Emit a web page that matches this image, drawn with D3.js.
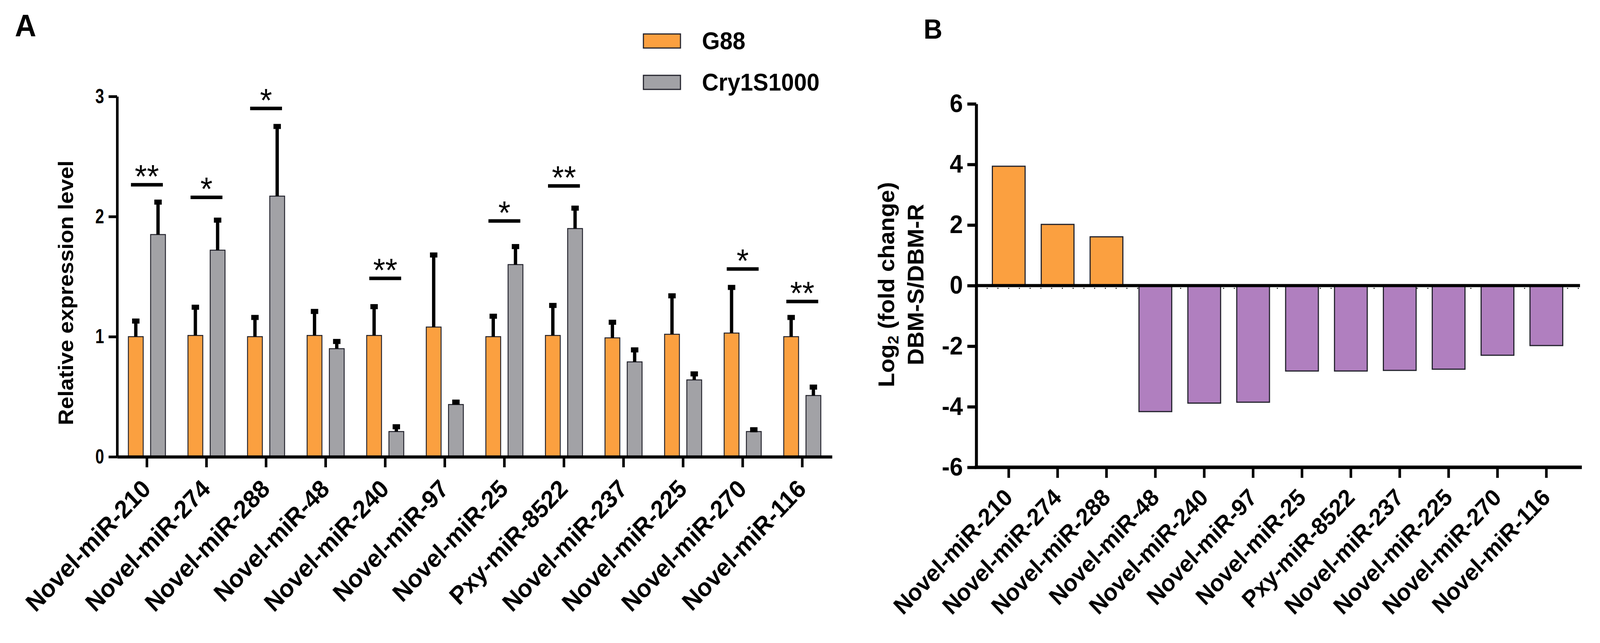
<!DOCTYPE html>
<html>
<head>
<meta charset="utf-8">
<script src="https://cdn.jsdelivr.net/npm/d3@7"></script>
<style>
  html, body { margin: 0; padding: 0; background: #ffffff; overflow: hidden; width: 100%; height: 100%; }
  svg { display: block; position: absolute; left: 0; top: 0; width: 100vw; height: 100vh; }
  text { font-family: "Liberation Sans", Arial, Helvetica, sans-serif; font-weight: bold; fill: #000; }
</style>
</head>
<body>
<svg id="chart" viewBox="0 0 4317 1647" preserveAspectRatio="none"></svg>
<script>
// ---------------- DATA ----------------
const categories = ["Novel-miR-210", "Novel-miR-274", "Novel-miR-288", "Novel-miR-48",
  "Novel-miR-240", "Novel-miR-97", "Novel-miR-25", "Pxy-miR-8522", "Novel-miR-237",
  "Novel-miR-225", "Novel-miR-270", "Novel-miR-116"];
const seriesNames = ["G88", "Cry1S1000"];
const g88Mean = [1.00, 1.01, 1.00, 1.01, 1.01, 1.08, 1.00, 1.01, 0.99, 1.02, 1.03, 1.00];
const g88SD   = [0.13, 0.235, 0.16, 0.20, 0.24, 0.60, 0.17, 0.25, 0.13, 0.32, 0.38, 0.16];
const cryMean = [1.85, 1.72, 2.17, 0.90, 0.21, 0.435, 1.60, 1.90, 0.79, 0.64, 0.21, 0.51];
const crySD   = [0.27, 0.25, 0.58, 0.06, 0.04, 0.02, 0.15, 0.17, 0.10, 0.05, 0.015, 0.07];
const sigIndex = [0, 1, 2, 4, 6, 7, 10, 11];
const sigLabel = ["**", "*", "*", "**", "*", "**", "*", "**"];
const sigLevel = [2.265, 2.16, 2.90, 1.485, 1.963, 2.255, 1.563, 1.293];
const yTicksA = [0, 1, 2, 3];

const log2FC = [3.94, 2.02, 1.61, -4.16, -3.88, -3.85, -2.82, -2.82, -2.80, -2.76, -2.30, -1.98];
const yTicksB = [-6, -4, -2, 0, 2, 4, 6];

// ---------------- STYLE ----------------
const ORANGE = "#FBA040", GRAY = "#A2A2A6", PURPLE = "#B07FBF", EDGE = "#22222c";
const svg = d3.select("#chart");

// ================= PANEL A =================
const xA = d3.scaleBand().domain(categories).range([316, 2245]).padding(0);
const yA = d3.scaleLinear().domain([0, 3]).range([1170, 247]);
const barW = 40, off = 30;

const gA = svg.append("g");

// bars
const groups = gA.selectAll("g.grp").data(categories).join("g").attr("class", "grp");
groups.append("rect")
  .attr("x", (d) => xA(d) + xA.bandwidth() / 2 - off - barW / 2)
  .attr("y", (d, i) => yA(g88Mean[i]))
  .attr("width", barW)
  .attr("height", (d, i) => yA(0) - yA(g88Mean[i]))
  .attr("fill", ORANGE).attr("stroke", EDGE).attr("stroke-width", 2.5);
groups.append("rect")
  .attr("x", (d) => xA(d) + xA.bandwidth() / 2 + off - barW / 2)
  .attr("y", (d, i) => yA(cryMean[i]))
  .attr("width", barW)
  .attr("height", (d, i) => yA(0) - yA(cryMean[i]))
  .attr("fill", GRAY).attr("stroke", EDGE).attr("stroke-width", 2.5);

// error bars (upper only)
function errBar(sel, cxFn, meanArr, sdArr) {
  sel.append("line")
    .attr("x1", cxFn).attr("x2", cxFn)
    .attr("y1", (d, i) => yA(meanArr[i]))
    .attr("y2", (d, i) => yA(meanArr[i] + sdArr[i]))
    .attr("stroke", "#000").attr("stroke-width", 9);
  sel.append("line")
    .attr("x1", (d, i) => cxFn(d, i) - 10).attr("x2", (d, i) => cxFn(d, i) + 10)
    .attr("y1", (d, i) => yA(meanArr[i] + sdArr[i]))
    .attr("y2", (d, i) => yA(meanArr[i] + sdArr[i]))
    .attr("stroke", "#000").attr("stroke-width", 13);
}
errBar(groups, (d) => xA(d) + xA.bandwidth() / 2 - off, g88Mean, g88SD);
errBar(groups, (d) => xA(d) + xA.bandwidth() / 2 + off, cryMean, crySD);

// significance marks
const sigData = sigIndex.map((idx, k) => ({ cat: categories[idx], label: sigLabel[k], level: sigLevel[k] }));
const sg = gA.selectAll("g.sig").data(sigData).join("g").attr("class", "sig");
sg.append("line")
  .attr("x1", (d) => xA(d.cat) + xA.bandwidth() / 2 - 43)
  .attr("x2", (d) => xA(d.cat) + xA.bandwidth() / 2 + 43)
  .attr("y1", (d) => yA(d.level)).attr("y2", (d) => yA(d.level))
  .attr("stroke", "#000").attr("stroke-width", 9);
sg.append("text")
  .attr("x", (d) => xA(d.cat) + xA.bandwidth() / 2)
  .attr("y", (d) => yA(d.level) + 8)
  .attr("text-anchor", "middle")
  .style("font-size", "84px").style("font-weight", "normal")
  .text((d) => d.label);

// axes
const axA = gA.append("g").attr("transform", "translate(316,0)")
  .call(d3.axisLeft(yA).tickValues(yTicksA).tickFormat(d3.format("d")).tickSize(23).tickPadding(12).tickSizeOuter(0));
axA.select(".domain").attr("stroke", "#000").attr("stroke-width", 7);
axA.selectAll(".tick line").attr("stroke", "#000").attr("stroke-width", 7);
axA.selectAll(".tick text").style("font-size", "52px").attr("font-family", null)
  .attr("transform", "scale(0.82,1)").attr("x", -35 / 0.82);

const axAx = gA.append("g").attr("transform", "translate(0,1170)")
  .call(d3.axisBottom(xA).tickSize(27).tickSizeOuter(0).tickFormat(""));
axAx.select(".domain").attr("stroke", "#000").attr("stroke-width", 8);
axAx.selectAll(".tick line").attr("stroke", "#000").attr("stroke-width", 7);

gA.selectAll("text.xlabA").data(categories).join("text").attr("class", "xlabA")
  .attr("text-anchor", "end")
  .attr("transform", (d) => `translate(${xA(d) + xA.bandwidth() / 2 + 14},1256) rotate(-45)`)
  .style("font-size", "64px")
  .text((d) => d);

gA.append("text")
  .attr("transform", "translate(197,750) rotate(-90)")
  .attr("text-anchor", "middle")
  .style("font-size", "57px")
  .text("Relative expression level");

gA.append("text").attr("x", 40).attr("y", 93).style("font-size", "80px").text("A");

// legend
const leg = gA.selectAll("g.leg").data(seriesNames).join("g").attr("class", "leg")
  .attr("transform", (d, i) => `translate(1736,${87 + i * 106})`);
leg.append("rect").attr("width", 100).attr("height", 36)
  .attr("fill", (d, i) => (i === 0 ? ORANGE : GRAY)).attr("stroke", EDGE).attr("stroke-width", 3);
leg.append("text").attr("x", 158).attr("y", 39).style("font-size", "62px").text((d) => d);

// ================= PANEL B =================
const xB = d3.scaleBand().domain(categories).range([2634, 4260]).padding(0.33);
const yB = d3.scaleLinear().domain([-6, 6]).range([1197, 266]);
const gB = svg.append("g");

// faint dotted baseline marks just below zero
gB.append("line").attr("x1", 2662).attr("x2", 4263)
  .attr("y1", yB(0) + 7).attr("y2", yB(0) + 7)
  .attr("stroke", "#333").attr("stroke-width", 3).attr("stroke-dasharray", "3,26");

gB.selectAll("rect.bb").data(categories).join("rect").attr("class", "bb")
  .attr("x", (d) => xB(d))
  .attr("width", xB.bandwidth())
  .attr("y", (d, i) => yB(Math.max(0, log2FC[i])))
  .attr("height", (d, i) => Math.abs(yB(log2FC[i]) - yB(0)))
  .attr("fill", (d, i) => (log2FC[i] >= 0 ? ORANGE : PURPLE))
  .attr("stroke", EDGE).attr("stroke-width", 3);

// zero line
gB.append("line").attr("x1", 2634).attr("x2", 4263)
  .attr("y1", yB(0)).attr("y2", yB(0))
  .attr("stroke", "#000").attr("stroke-width", 8);

const axB = gB.append("g").attr("transform", "translate(2634,0)")
  .call(d3.axisLeft(yB).tickValues(yTicksB).tickFormat(d3.format("d")).tickSize(24).tickPadding(12).tickSizeOuter(0));
axB.select(".domain").attr("stroke", "#000").attr("stroke-width", 8);
axB.selectAll(".tick line").attr("stroke", "#000").attr("stroke-width", 8);
axB.selectAll(".tick text").style("font-size", "64px").attr("font-family", null).text((d) => (d < 0 ? "-" + Math.abs(d) : d));

const axBx = gB.append("g").attr("transform", "translate(0,1197)")
  .call(d3.axisBottom(xB).tickSize(27).tickSizeOuter(0).tickFormat(""));
axBx.select(".domain").attr("stroke", "#000").attr("stroke-width", 9)
  .attr("d", "M2630,0H4268");
axBx.selectAll(".tick line").attr("stroke", "#000").attr("stroke-width", 7);

gB.selectAll("text.xlabB").data(categories).join("text").attr("class", "xlabB")
  .attr("text-anchor", "end")
  .attr("transform", (d) => `translate(${xB(d) + xB.bandwidth() / 2 + 14},1278) rotate(-45)`)
  .style("font-size", "61px")
  .text((d) => d);

const yt = gB.append("text")
  .attr("transform", "translate(2412,729) rotate(-90)")
  .attr("text-anchor", "middle")
  .style("font-size", "60px");
yt.append("tspan").text("Log");
yt.append("tspan").attr("dy", 12).style("font-size", "40px").text("2");
yt.append("tspan").attr("dy", -12).text(" (fold change)");
gB.append("text")
  .attr("transform", "translate(2492,729) rotate(-90)")
  .attr("text-anchor", "middle")
  .style("font-size", "60px")
  .text("DBM-S/DBM-R");

gB.append("text").attr("x", 2492).attr("y", 99).style("font-size", "70px").text("B");
</script>
</body>
</html>
